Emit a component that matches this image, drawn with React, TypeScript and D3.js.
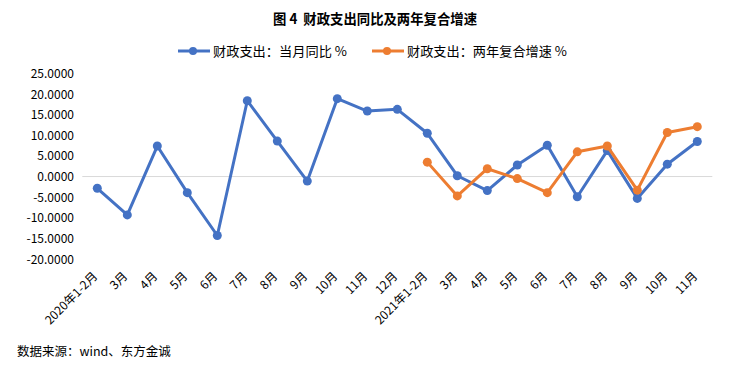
import { scaleBand, scaleLinear, line } from "d3";

const categories = [
  "2020年1-2月", "3月", "4月", "5月", "6月", "7月", "8月", "9月", "10月", "11月", "12月",
  "2021年1-2月", "3月", "4月", "5月", "6月", "7月", "8月", "9月", "10月", "11月",
];
const monthlyYoY = [
  -2.85, -9.3, 7.4, -3.9, -14.3, 18.4, 8.6, -1.1, 18.9, 15.9, 16.3,
  10.5, 0.2, -3.4, 2.8, 7.6, -4.9, 6.3, -5.3, 3.0, 8.5,
];
const twoYearCagr: (number | null)[] = [
  null, null, null, null, null, null, null, null, null, null, null,
  3.5, -4.7, 1.9, -0.5, -3.9, 6.0, 7.4, -3.3, 10.7, 12.1,
];
const yTicks = [25, 20, 15, 10, 5, 0, -5, -10, -15, -20];

const font = "'Microsoft YaHei', 'Noto Sans CJK SC', sans-serif";
const blue = "#4472C4";
const orange = "#ED7D31";

const App = () => {
  const width = 740;
  const height = 365;
  const x = scaleBand<number>()
    .domain(categories.map((_, i) => i))
    .range([82.3, 712.3]);
  const y = scaleLinear().domain([-20, 25]).range([259, 73.5]);
  const cx = (i: number) => (x(i) as number) + x.bandwidth() / 2;

  const pathOf = (vals: (number | null)[]) =>
    line<number | null>()
      .defined((d) => d !== null)
      .x((_, i) => cx(i))
      .y((d) => y(d as number))(vals) as string;

  const series = [
    { name: "财政支出：当月同比 %", color: blue, values: monthlyYoY as (number | null)[], lx: 178, tw: 134 },
    { name: "财政支出：两年复合增速 %", color: orange, values: twoYearCagr, lx: 372, tw: 160 },
  ];

  return (
    <svg
      width={width}
      height={height}
      style={{ position: "absolute", left: 0, top: 0, fontFamily: font }}
    >
      <rect width={width} height={height} fill="#fff" />
      <text
        x={273}
        y={24}
        fontSize={14}
        fontWeight="bold"
        fill="#000"
        textLength={204}
        lengthAdjust="spacingAndGlyphs"
      >
        {"图\u00a04\u00a0\u00a0财政支出同比及两年复合增速"}
      </text>

      {/* legend */}
      {series.map((s) => (
        <g key={s.name}>
          <line x1={s.lx} x2={s.lx + 32} y1={51} y2={51} stroke={s.color} strokeWidth={3} />
          <circle cx={s.lx + 15} cy={51} r={4} fill={s.color} />
          <text
            x={s.lx + 35}
            y={55.5}
            fontSize={13}
            fill="#000"
            textLength={s.tw}
            lengthAdjust="spacingAndGlyphs"
          >
            {s.name}
          </text>
        </g>
      ))}

      {/* y axis labels */}
      {yTicks.map((t) => (
        <text key={t} x={74} y={y(t) + 4.5} textAnchor="end" fontSize={12} fill="#000">
          {t.toFixed(4)}
        </text>
      ))}

      <line x1={82.3} x2={712.3} y1={y(0)} y2={y(0)} stroke="#d9d9d9" strokeWidth={1} />

      {/* x axis labels */}
      {categories.map((c, i) => (
        <text
          key={i}
          transform={`translate(${cx(i) + 1},${277}) rotate(-45)`}
          textAnchor="end"
          fontSize={12}
          fill="#000"
        >
          {c}
        </text>
      ))}

      {series.map((s) => (
        <g key={s.name}>
          <path d={pathOf(s.values)} fill="none" stroke={s.color} strokeWidth={3} strokeLinejoin="round" />
          {s.values.map((v, i) =>
            v === null ? null : <circle key={i} cx={cx(i)} cy={y(v)} r={4.5} fill={s.color} />
          )}
        </g>
      ))}

      <text x={17} y={356} fontSize={12.5} fill="#000">
        数据来源：wind、东方金诚
      </text>
    </svg>
  );
};

export default App;
